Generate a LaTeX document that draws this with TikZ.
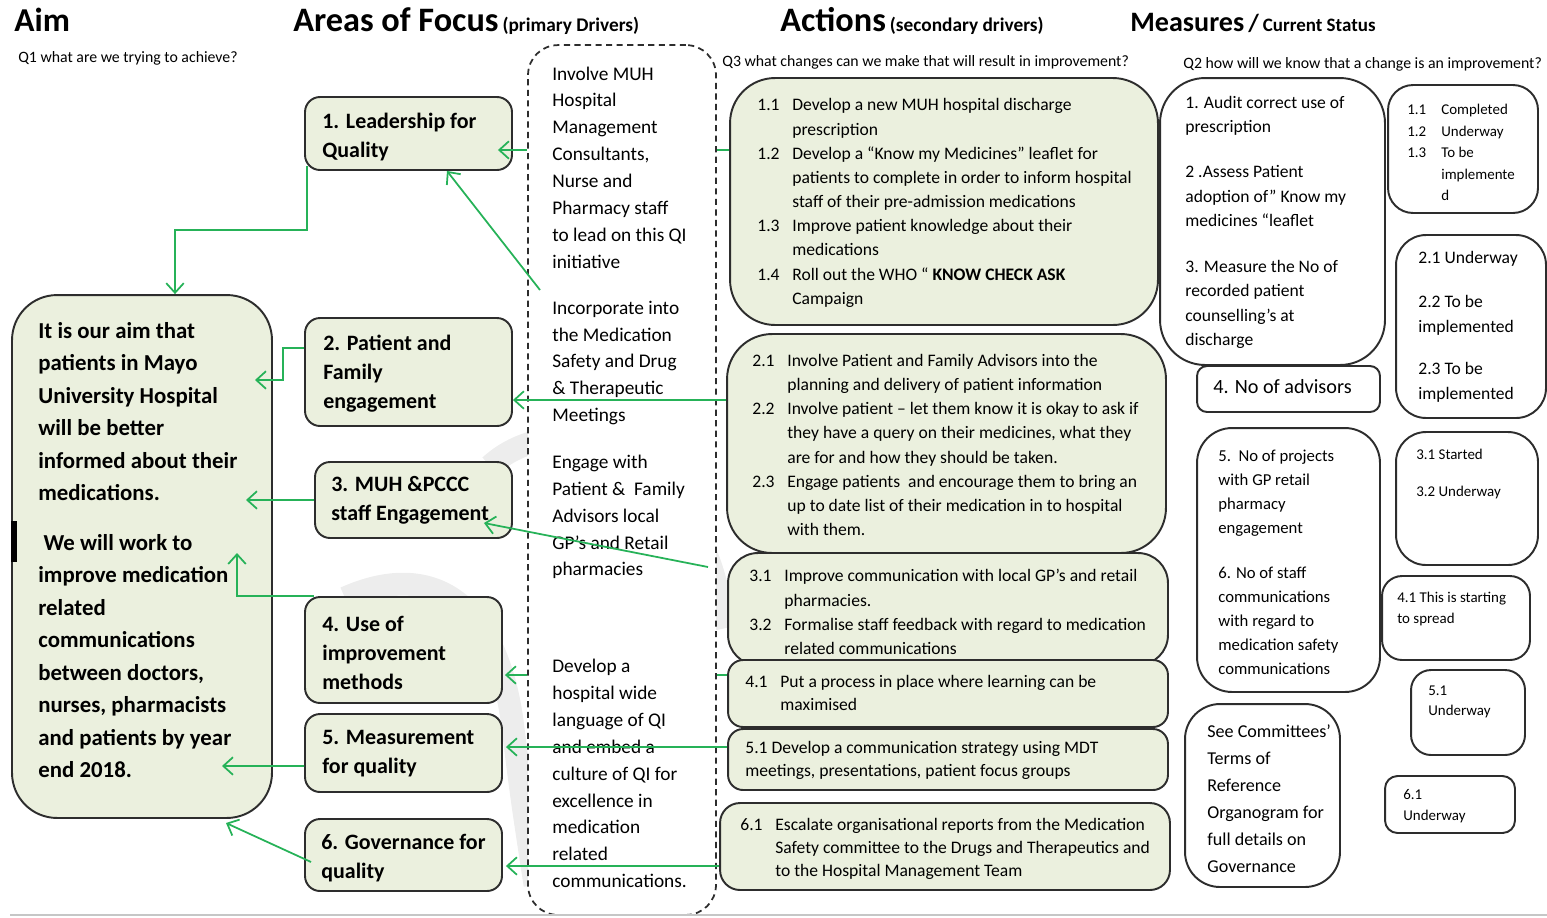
\documentclass[tikz,border=0pt]{standalone}
\usepackage{fontspec}
\setmainfont{Carlito}
\usetikzlibrary{arrows.meta}

\definecolor{boxfill}{RGB}{235,240,222}
\definecolor{boxline}{RGB}{45,45,45}
\definecolor{flowgreen}{RGB}{38,178,88}

\newcommand{\actno}[1]{\makebox[0.7cm][l]{#1}}
\newcommand{\actgap}{\hspace*{0.7cm}}
\newcommand{\statno}[1]{\makebox[0.68cm][l]{#1}}
\newcommand{\statgap}{\hspace*{0.68cm}}

\begin{document}
\begin{tikzpicture}[x=0.02cm, y=-0.02cm,
  greenbox/.style={draw=boxline, fill=boxfill, line width=1.1pt},
  whitebox/.style={draw=boxline, fill=white, line width=1.1pt},
  drvbox/.style={draw=boxline, fill=white, line width=1pt, dash pattern=on 3.5pt off 2.5pt, rounded corners=0.6cm},
  txt/.style={inner sep=0pt, align=left, anchor=west},
  heading/.style={inner sep=0pt, anchor=base west, font=\bfseries},
  qline/.style={inner sep=0pt, anchor=base west, font=\fontsize{9}{10}\selectfont},
  swoosh/.style={draw=black!7, line width=13pt},
  flow/.style={draw=flowgreen, line width=1pt, -{Straight Barb[length=5.5pt,width=10pt]}},
  tick/.style={draw=flowgreen, line width=1pt}]
		\useasboundingbox (0,0) rectangle (1547,917);

		% faint logo behind the drivers
		\draw[swoosh] (345,598) .. controls (430,560) and (495,600) .. (512,720) .. controls (522,800) .. (535,885);
		\draw[swoosh] (490,466) .. controls (540,420) and (640,425) .. (690,520) .. controls (712,565) .. (726,628);

		% column headings
		\node[heading, font=\bfseries\fontsize{19}{22}\selectfont] (aimhead) at (14,31) {Aim};
		\node[heading] (areahead) at (293,31) {{\fontsize{19.5}{22}\selectfont Areas of Focus} {\fontsize{11}{13}\selectfont (primary Drivers)}};
		\node[heading] (acthead) at (780,31) {{\fontsize{19.5}{22}\selectfont Actions} {\fontsize{11}{13}\selectfont (secondary drivers)}};
		\node[heading] (meashead) at (1130,31) {{\fontsize{16}{20}\selectfont Measures} {\fontsize{14}{16}\selectfont /} {\fontsize{10.8}{13}\selectfont Current Status}};
		\node[qline] (q1) at (18,62) {Q1 what are we trying to achieve?};
		\node[qline] (q3) at (722,66) {Q3 what changes can we make that will result in improvement?};
		\node[qline] (q2) at (1183,68) {Q2 how will we know that a change is an improvement?};

		% aim
		\node[greenbox, rounded corners=0.9cm, minimum width=5.2cm, minimum height=10.46cm] (aim) at (142,556.5) {};
		\draw[line width=3pt] (14,521) -- (14,562);
		\node[txt, font=\bfseries\fontsize{13}{18.5}\selectfont] (aimtxt) at (38,550) {It is our aim that\\patients in Mayo\\University Hospital\\will be better\\informed about their\\medications.\\[9.6pt]\ We will work to\\improve medication\\related\\communications\\between doctors,\\nurses, pharmacists\\and patients by year\\end 2018.};

		% primary drivers
		\node[greenbox, rounded corners=0.3cm, minimum width=4.14cm, minimum height=1.46cm] (lead) at (408.5,133.5) {};
		\node[greenbox, rounded corners=0.3cm, minimum width=4.14cm, minimum height=2.16cm] (patient) at (408.5,372) {};
		\node[greenbox, rounded corners=0.3cm, minimum width=3.94cm, minimum height=1.52cm] (staff) at (413.5,500) {};
		\node[greenbox, rounded corners=0.3cm, minimum width=3.94cm, minimum height=2.12cm] (methods) at (403.5,650) {};
		\node[greenbox, rounded corners=0.3cm, minimum width=3.94cm, minimum height=1.56cm] (measure) at (403.5,753) {};
		\node[greenbox, rounded corners=0.3cm, minimum width=3.94cm, minimum height=1.44cm] (govern) at (403.5,855) {};
		\node[txt, font=\bfseries\fontsize{12.5}{16.5}\selectfont] (leadtxt) at (322,137.5) {1. Leadership for\\Quality};
		\node[txt, font=\bfseries\fontsize{12.5}{16.7}\selectfont] (patienttxt) at (323,373.5) {2. Patient and\\Family\\engagement};
		\node[txt, font=\bfseries\fontsize{12.5}{16.5}\selectfont] (stafftxt) at (331,500.5) {3. MUH \&PCCC\\staff Engagement};
		\node[txt, font=\bfseries\fontsize{12.5}{16.5}\selectfont] (methodstxt) at (322,653) {4. Use of\\improvement\\methods};
		\node[txt, font=\bfseries\fontsize{12.5}{16.5}\selectfont] (measuretxt) at (322,754) {5. Measurement\\for quality};
		\node[txt, font=\bfseries\fontsize{12.5}{16.5}\selectfont] (governtxt) at (321,858.5) {6. Governance for\\quality};

		% change ideas
		\node[drvbox, minimum width=3.76cm, minimum height=17.4cm] (drivers) at (622,480) {};
		\node[txt, font=\fontsize{11}{15.3}\selectfont] (drv1) at (552,167.5) {Involve MUH\\Hospital\\Management\\Consultants,\\Nurse and\\Pharmacy staff\\to lead on this QI\\initiative};
		\node[txt, font=\fontsize{11}{15.3}\selectfont] (drv2) at (552,363) {Incorporate into\\the Medication\\Safety and Drug\\\& Therapeutic\\Meetings};
		\node[txt, font=\fontsize{11}{15.3}\selectfont] (drv3) at (552,517) {Engage with\\Patient \&\ \ Family\\Advisors local\\GP’s and Retail\\pharmacies};
		\node[txt, font=\fontsize{11}{15.3}\selectfont] (drv4) at (552,773.5) {Develop a\\hospital wide\\language of QI\\and embed a\\culture of QI for\\excellence in\\medication\\related\\communications.};

		% secondary drivers
		\node[greenbox, rounded corners=0.9cm, minimum width=8.56cm, minimum height=4.94cm] (act1) at (944,201.5) {};
		\node[greenbox, rounded corners=0.9cm, minimum width=8.78cm, minimum height=4.38cm] (act2) at (946.5,443.5) {};
		\node[greenbox, rounded corners=0.6cm, minimum width=8.8cm, minimum height=2.24cm] (act3) at (948,609) {};
		\node[greenbox, rounded corners=0.3cm, minimum width=8.8cm, minimum height=1.34cm] (act4) at (948,693.5) {};
		\node[greenbox, rounded corners=0.3cm, minimum width=8.8cm, minimum height=1.22cm] (act5) at (948,759.5) {};
		\node[greenbox, rounded corners=0.4cm, minimum width=9cm, minimum height=1.74cm] (act6) at (945,846.5) {};
		\node[txt, font=\fontsize{10}{13.75}\selectfont] (act1txt) at (757,203) {\actno{1.1}Develop a new MUH hospital discharge\\\actgap prescription\\\actno{1.2}Develop a “Know my Medicines” leaflet for\\\actgap patients to complete in order to inform hospital\\\actgap staff of their pre-admission medications\\\actno{1.3}Improve patient knowledge about their\\\actgap medications\\\actno{1.4}Roll out the WHO “ \textbf{KNOW CHECK ASK}\\\actgap Campaign};
		\node[txt, font=\fontsize{10}{13.8}\selectfont] (act2txt) at (752,445) {\actno{2.1}Involve Patient and Family Advisors into the\\\actgap planning and delivery of patient information\\\actno{2.2}Involve patient – let them know it is okay to ask if\\\actgap they have a query on their medicines, what they\\\actgap are for and how they should be taken.\\\actno{2.3}Engage patients\ \ and encourage them to bring an\\\actgap up to date list of their medication in to hospital\\\actgap with them.};
		\node[txt, font=\fontsize{10}{13.8}\selectfont] (act3txt) at (749,612) {\actno{3.1}Improve communication with local GP’s and retail\\\actgap pharmacies.\\\actno{3.2}Formalise staff feedback with regard to medication\\\actgap related communications};
		\node[txt, font=\fontsize{10}{13.6}\selectfont] (act4txt) at (745,693) {\actno{4.1}Put a process in place where learning can be\\\actgap maximised};
		\node[txt, font=\fontsize{10}{13.2}\selectfont] (act5txt) at (745,760.5) {5.1 Develop a communication strategy using MDT\\meetings, presentations, patient focus groups};
		\node[txt, font=\fontsize{10}{13.2}\selectfont] (act6txt) at (740,849) {\actno{6.1}Escalate organisational reports from the Medication\\\actgap Safety committee to the Drugs and Therapeutics and\\\actgap to the Hospital Management Team};

		% measures
		\node[whitebox, rounded corners=0.9cm, minimum width=4.5cm, minimum height=5.74cm] (meas1) at (1272.5,221.5) {};
		\node[whitebox, rounded corners=0.2cm, minimum width=3.66cm, minimum height=0.92cm] (meas2) at (1288.5,389) {};
		\node[whitebox, rounded corners=0.7cm, minimum width=3.66cm, minimum height=5.28cm] (meas3) at (1288.5,560) {};
		\node[whitebox, rounded corners=0.7cm, minimum width=3.1cm, minimum height=3.66cm] (meas4) at (1262.5,795.5) {};
		\node[txt, font=\fontsize{10}{13.9}\selectfont] (meas1txt) at (1185,222.5) {1. Audit correct use of\\prescription\\[11.6pt]2 .Assess Patient\\adoption of” Know my\\medicines “leaflet\\[12.2pt]3. Measure the No of\\recorded patient\\counselling’s at\\discharge};
		\node[txt, font=\fontsize{11.5}{14}\selectfont] (meas2txt) at (1213,387) {4. No of advisors};
		\node[txt, font=\fontsize{9.5}{13.7}\selectfont] (meas3txt) at (1218,562) {5.\ \ No of projects\\with GP retail\\pharmacy\\engagement\\[11.8pt]6. No of staff\\communications\\with regard to\\medication safety\\communications};
		\node[txt, font=\fontsize{10.3}{15.3}\selectfont] (meas4txt) at (1207,798.5) {See Committees’\\Terms of\\Reference\\Organogram for\\full details on\\Governance};

		% current status
		\node[whitebox, rounded corners=0.5cm, minimum width=3cm, minimum height=2.56cm] (stat1) at (1463,149) {};
		\node[whitebox, rounded corners=0.6cm, minimum width=3cm, minimum height=3.66cm] (stat2) at (1471,326.5) {};
		\node[whitebox, rounded corners=0.6cm, minimum width=2.84cm, minimum height=2.66cm] (stat3) at (1467,498.5) {};
		\node[whitebox, rounded corners=0.4cm, minimum width=2.96cm, minimum height=1.68cm] (stat4) at (1456,618) {};
		\node[whitebox, rounded corners=0.4cm, minimum width=2.28cm, minimum height=1.7cm] (stat5) at (1468,712.5) {};
		\node[whitebox, rounded corners=0.25cm, minimum width=2.6cm, minimum height=1.14cm] (stat6) at (1450,804.5) {};
		\node[txt, font=\fontsize{8.5}{12.3}\selectfont] (stat1txt) at (1407,152.5) {\statno{1.1}Completed\\\statno{1.2}Underway\\\statno{1.3}To be\\\statgap implemente\\\statgap d};
		\node[txt, font=\fontsize{10}{14.2}\selectfont] (stat2txt) at (1418,327) {2.1 Underway\\[10.8pt]2.2 To be\\implemented\\[9.6pt]2.3 To be\\implemented};
		\node[txt, font=\fontsize{8.5}{12}\selectfont] (stat3txt) at (1416,474) {3.1 Started\\[9.5pt]3.2 Underway};
		\node[txt, font=\fontsize{8.5}{12.5}\selectfont] (stat4txt) at (1397,609) {4.1 This is starting\\to spread};
		\node[txt, font=\fontsize{8.5}{11.3}\selectfont] (stat5txt) at (1428,702) {5.1\\Underway};
		\node[txt, font=\fontsize{8.5}{12}\selectfont] (stat6txt) at (1403,806.5) {6.1\\Underway};

		% arrow ends and bends
		\coordinate (knee1) at (175,230);
		\coordinate (tip1) at ([xshift=-0.3cm,yshift=-0.33cm]lead.east);
		\coordinate (from1) at (540,290);
		\coordinate (tip2) at ([yshift=-0.56cm]patient.east);
		\coordinate (from2) at (708,567);
		\coordinate (knee2) at (283,380);
		\coordinate (tip3) at (255,380);
		\coordinate (tip4) at (246,500);
		\coordinate (tip5) at (237,553);
		\coordinate (tip6) at ([xshift=0.04cm,yshift=-0.5cm]methods.east);
		\coordinate (tip7) at ([xshift=0.06cm,yshift=0.12cm]measure.east);
		\coordinate (tip8) at (222,766);
		\coordinate (tip9) at (226,823);
		\coordinate (tip10) at ([xshift=0.06cm,yshift=-0.22cm]govern.east);

		% connectors
		\draw[flow] ([xshift=0.06cm,yshift=0.1cm]lead.south west) |- (knee1) -- (knee1 |- aim.north);
		\draw[flow] (drivers.west |- tip1) -- (tip1);
		\draw[tick] (drivers.east |- tip1) -- (act1.west |- tip1);
		\draw[flow] (from1) -- ([xshift=0.77cm]lead.south);
		\draw[flow] (act2.west |- tip2) -- (tip2);
		\draw[flow] (from2) -- ([xshift=-0.58cm,yshift=-0.46cm]staff.east);
		\draw[flow] ([yshift=0.48cm]patient.west) -| (knee2) -- (tip3);
		\draw[flow] (staff.west) -- (tip4);
		\draw[flow] ([xshift=0.2cm]methods.north west) -| (tip5);
		\draw[flow] (drivers.west |- tip6) -- (tip6);
		\draw[tick] (drivers.east |- tip6) -- (act4.west |- tip6);
		\draw[flow] (act5.west |- tip7) -- (tip7);
		\draw[flow] ([yshift=-0.26cm]measure.west) -- (tip8);
		\draw[flow] ([xshift=0.14cm,yshift=-0.14cm]govern.west) -- (tip9);
		\draw[flow] (act6.west |- tip10) -- (tip10);

		\draw[gray!45, line width=1pt] (10,915) -- (1547,915);
	\end{tikzpicture}
\end{document}
